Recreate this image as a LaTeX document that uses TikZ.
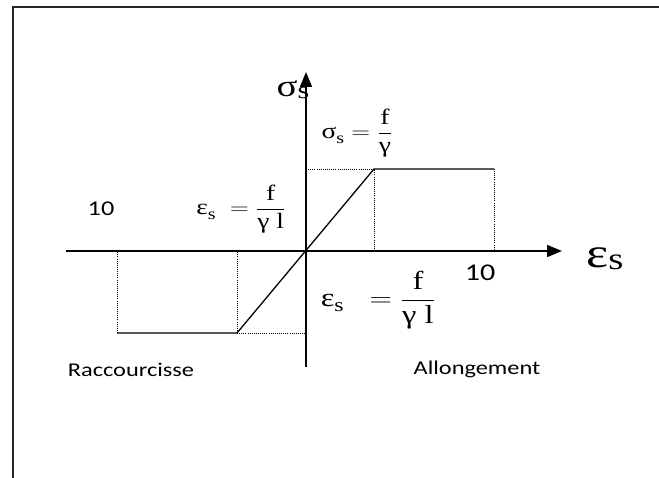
\documentclass[tikz,border=0pt]{standalone}
\usepackage{amsmath}
\usepackage{fontspec}
\setmainfont{Liberation Serif}
\newfontfamily\calib{Carlito}
\usetikzlibrary{arrows.meta}
\newcommand{\widetxt}[1]{\scalebox{1.25}[1]{#1}}
\newcommand{\fsz}[1]{\fontsize{#1}{#1}\selectfont}
% symbol with a lowered index: base, index, base size, index size
\newcommand{\sym}[4]{{\fsz{#3}#1}\raisebox{-0.22em}{\fsz{#4}#2}}

\begin{document}
\begin{tikzpicture}[x=1pt,y=-1pt,
    axis/.style={line width=1.6pt,-{Triangle[length=15pt,width=12pt]}},
    curve/.style={line width=1.3pt},
    guide/.style={line width=0.9pt,dash pattern=on 0.9pt off 1.2pt},
    lbl/.style={inner sep=0pt}]
\useasboundingbox (0,0) rectangle (659,478);
\draw[line width=2pt,black!85] (12.5,478) -- (12.5,7.5) -- (659,7.5);

\coordinate (O) at (306,251);
\coordinate (Xa) at (66,251);
\coordinate (X) at (562,251);
\coordinate (Ya) at (306,367);
\coordinate (Y) at (306,72);
\coordinate (P) at (374,169);
\coordinate (Q) at (494,169);
\coordinate (M) at (237,333);
\coordinate (N) at (117,333);

% axes
\draw[axis] (Xa) -- (X);
\draw[axis] (Ya) -- (Y);

% stress-strain law
\draw[curve] (N) -- (M) -- (P) -- (Q);
\draw[guide] (O |- P) -- (P) -- (P |- O);
\draw[guide] (Q) -- (Q |- O);
\draw[guide] (N) -- (N |- O);
\draw[guide] (M) -- (M |- O);
\draw[guide] (M) -- (O |- M);

% labels
\node[lbl] (sigax) at (293,90) {\widetxt{\sym{σ}{s}{31}{24}}};
\node[lbl] (epsax) at (605,259) {\widetxt{\sym{ε}{s}{42}{31}}};
\node[lbl] (sigfe) at (357,133) {\fsz{22}\widetxt{\sym{σ}{s}{22}{16}$\;=\dfrac{\text{f}}{\text{γ}}$}};
\node[lbl] (epsl) at (241,209) {\fsz{22}\widetxt{\sym{ε}{s}{22}{16}$\;\;=\dfrac{\text{f}}{\text{γ l}}$}};
\node[lbl] (epsr) at (378,300) {\fsz{26}\widetxt{\sym{ε}{s}{26}{19}$\;\;\;=\dfrac{\text{f}}{\text{γ l}}$}};
\node[lbl] (tenl) at (101,208.5) {\calib\fsz{21}\widetxt{10}};
\node[lbl] (tenr) at (480,273) {\calib\fsz{24}\widetxt{10}};
\node[lbl] (racc) at (131,370) {\calib\fsz{19.5}\widetxt{Raccourcisse}};
\node[lbl] (allo) at (477,369) {\calib\fsz{19.5}\widetxt{Allongement}};
\end{tikzpicture}
\end{document}
